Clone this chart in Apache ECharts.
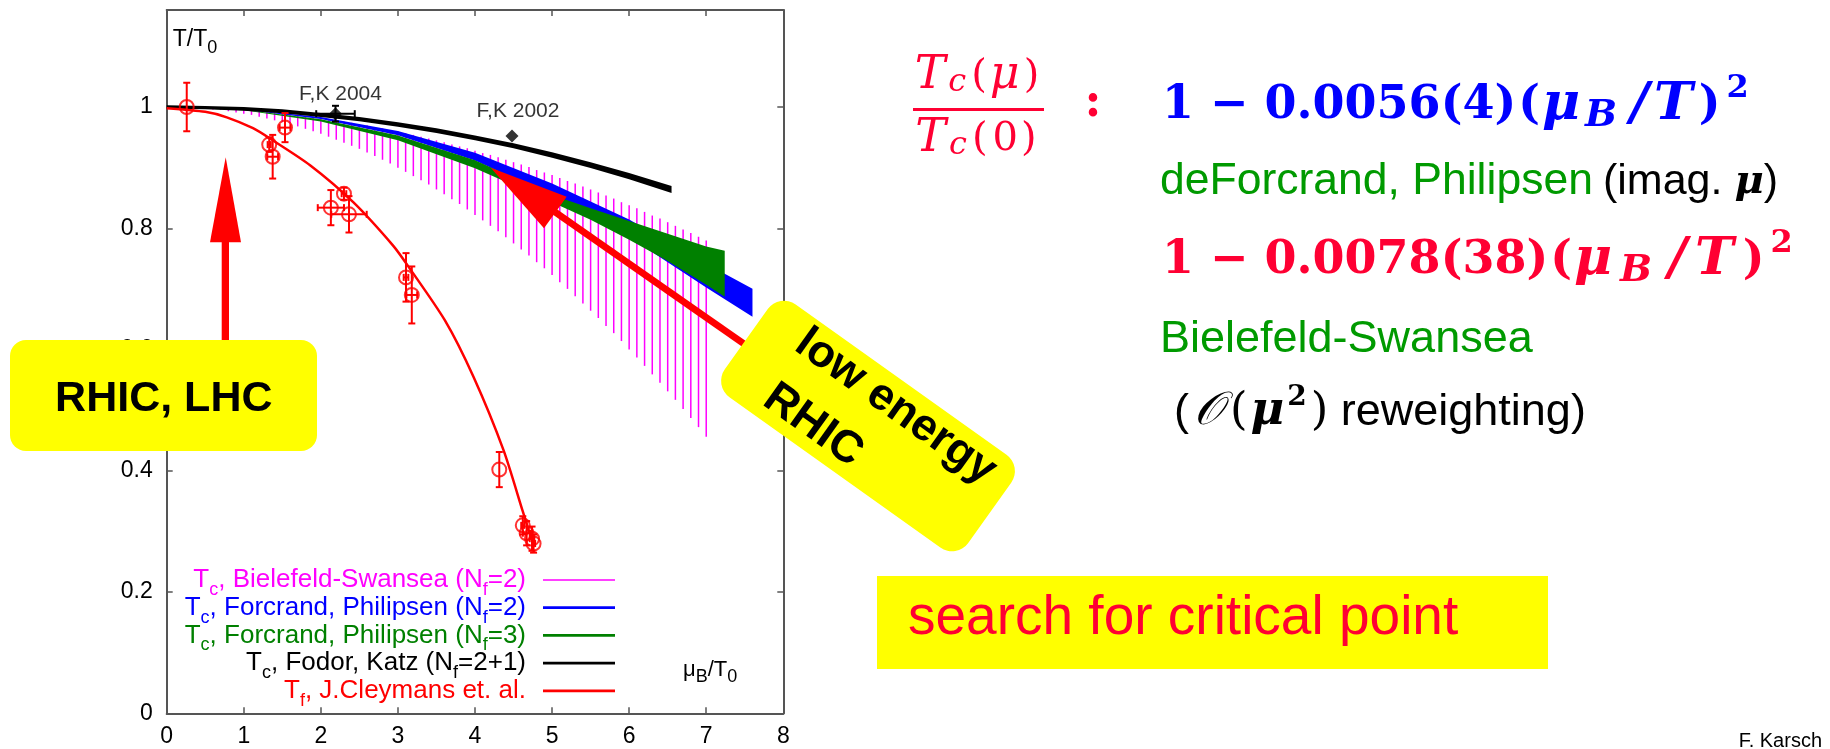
<!DOCTYPE html>
<html>
<head>
<meta charset="utf-8">
<script src="https://cdn.jsdelivr.net/npm/echarts@6/dist/echarts.min.js"></script>
<style>
  html, body { margin: 0; padding: 0; background: #fff; }
  #chart { width: 1830px; height: 749px; }
</style>
</head>
<body>
<div id="chart"></div>
<script>
// ---- Tc, Bielefeld-Swansea (Nf=2): hatch of vertical bars ----
const bsMu = [0.5,0.6,0.7,0.8,0.9,1.0,1.1,1.2,1.3,1.4,1.5,1.6,1.7,1.8,1.9,2.0,2.1,2.2,2.3,2.4,2.5,2.6,2.7,2.8,2.9,
  3.0,3.1,3.2,3.3,3.4,3.5,3.6,3.7,3.8,3.9,4.0,4.1,4.2,4.3,4.4,4.5,4.6,4.7,4.8,4.9,5.0,5.1,5.2,5.3,5.4,5.5,
  5.6,5.7,5.8,5.9,6.0,6.1,6.2,6.3,6.4,6.5,6.6,6.7,6.8,6.9,7.0];
const bsUpper = [0.999,0.998,0.998,0.997,0.996,0.996,0.995,0.994,0.992,0.991,0.990,0.988,0.987,0.985,0.984,0.982,
  0.980,0.978,0.976,0.974,0.972,0.970,0.967,0.965,0.962,0.960,0.957,0.954,0.951,0.948,0.945,0.942,0.938,0.935,
  0.932,0.928,0.924,0.921,0.917,0.913,0.909,0.905,0.901,0.896,0.892,0.888,0.883,0.878,0.874,0.869,0.864,0.859,
  0.854,0.849,0.843,0.838,0.833,0.827,0.821,0.816,0.810,0.804,0.798,0.792,0.786,0.780];
const bsLower = [0.997,0.996,0.995,0.993,0.991,0.989,0.987,0.984,0.981,0.978,0.975,0.972,0.968,0.964,0.960,0.956,
  0.951,0.946,0.941,0.936,0.931,0.925,0.919,0.913,0.907,0.900,0.893,0.886,0.879,0.872,0.864,0.856,0.848,0.840,
  0.831,0.822,0.813,0.804,0.795,0.785,0.775,0.765,0.755,0.744,0.734,0.723,0.711,0.700,0.688,0.676,0.664,0.652,
  0.639,0.627,0.614,0.600,0.587,0.573,0.559,0.545,0.531,0.517,0.502,0.487,0.472,0.456];

// ---- Tc, Forcrand-Philipsen (Nf=2) band ----
const fp2Mu = [0, 1, 2, 3, 4, 5, 6, 7, 7.6];
const fp2Upper = [1.000, 0.9964, 0.9836, 0.9606, 0.9244, 0.874, 0.8144, 0.7416, 0.7001];
const fp2Lower = [1.000, 0.9956, 0.9804, 0.9534, 0.9116, 0.854, 0.7856, 0.7024, 0.6539];

// ---- Tc, Forcrand-Philipsen (Nf=3) band ----
const fp3Mu = [0, 1, 2, 3, 4, 5, 5.5, 6, 6.5, 7, 7.24];
const fp3Upper = [1.000, 0.9955, 0.980, 0.953, 0.912, 0.855, 0.833, 0.812, 0.791, 0.770, 0.763];
const fp3Lower = [1.000, 0.9945, 0.976, 0.945, 0.899, 0.843, 0.814, 0.781, 0.746, 0.707, 0.687];

// ---- Tc, Fodor-Katz (Nf=2+1) band ----
const fkMu = [0, 0.5, 1, 1.5, 2, 2.5, 3, 3.5, 4, 4.5, 5, 5.5, 6, 6.55];
const fkUpper = [1.0027, 1.0018, 1.000, 0.9961, 0.9903, 0.9835, 0.9747, 0.9649, 0.953, 0.9402, 0.9255, 0.9088, 0.8912, 0.8698];
const fkLower = [0.9973, 0.9962, 0.994, 0.9899, 0.9837, 0.9765, 0.9673, 0.9571, 0.945, 0.9318, 0.9165, 0.8992, 0.8808, 0.8582];

// ---- Fodor-Katz points ----
const fkPtName = ['F,K 2004', 'F,K 2002'];
const fkPtMu = [2.19, 4.48];
const fkPtT = [0.989, 0.952];
const fkPtMuErr = [0.25, 0];
const fkPtTErr = [0.013, 0];

// ---- Tf, J.Cleymans et al.: freeze-out curve ----
const cleyMu = [0, 0.5, 0.78, 1.12, 1.34, 1.86, 2.42, 2.94, 3.13, 3.61, 3.98, 4.37, 4.62, 4.73];
const cleyT = [0.998, 0.992, 0.983, 0.965, 0.948, 0.904, 0.843, 0.771, 0.738, 0.648, 0.555, 0.434, 0.333, 0.288];

// ---- freeze-out data points ----
const frzMu = [0.26, 1.535, 1.33, 1.375, 2.30, 2.13, 2.365, 3.105, 3.18, 4.315, 4.62, 4.67, 4.74, 4.76];
const frzT = [1.000, 0.966, 0.938, 0.918, 0.857, 0.834, 0.823, 0.719, 0.690, 0.402, 0.310, 0.297, 0.288, 0.280];
const frzMuErr = [0, 0.07, 0.02, 0.07, 0.03, 0.17, 0.23, 0.03, 0.07, 0, 0.02, 0.05, 0.03, 0.02];
const frzTErr = [0.040, 0.024, 0.012, 0.036, 0.010, 0.029, 0.030, 0.040, 0.047, 0.029, 0.015, 0.020, 0.020, 0.015];

// ---- axes ----
const muTicks = { min: 0, max: 8, interval: 1 };
const tTicks = { min: 0, max: 1.16, interval: 0.2 };

// ---- legend entries ----
const seriesNames = [
  'Tc, Bielefeld-Swansea (Nf=2)',
  'Tc, Forcrand, Philipsen (Nf=2)',
  'Tc, Forcrand, Philipsen (Nf=3)',
  'Tc, Fodor, Katz (Nf=2+1)',
  'Tf, J.Cleymans et. al.'
];
const legendRich = [
  '{n|T}{s|c}{n|, Bielefeld-Swansea (N}{s|f}{n|=2)}',
  '{n|T}{s|c}{n|, Forcrand, Philipsen (N}{s|f}{n|=2)}',
  '{n|T}{s|c}{n|, Forcrand, Philipsen (N}{s|f}{n|=3)}',
  '{n|T}{s|c}{n|, Fodor, Katz (N}{s|f}{n|=2+1)}',
  '{n|T}{s|f}{n|, J.Cleymans et. al.}'
];

const MAGENTA = '#ff00ff', BLUE = '#0000ff', GREEN = '#008000', BLACK = '#000000', RED = '#ff0000';
const TXT_RED = '#ff0033', TXT_GREEN = '#009a00', TXT_BLUE = '#0000ff', YELLOW = '#ffff00';
const SANS = '"Liberation Sans", Arial, sans-serif';
const SERIF = '"DejaVu Serif", serif';

function bandSeries(name, xs, up, lo, color) {
  return {
    type: 'custom', name: name,
    data: xs.map((x, i) => [x, up[i], lo[i]]),
    encode: { x: 0, y: [1, 2] },
    itemStyle: { color: color },
    renderItem: (params, api) => {
      if (params.dataIndex !== 0) return null;
      const pts = [];
      for (let i = 0; i < xs.length; i++) pts.push(api.coord([xs[i], up[i]]));
      for (let i = xs.length - 1; i >= 0; i--) pts.push(api.coord([xs[i], lo[i]]));
      return { type: 'polygon', shape: { points: pts }, style: { fill: color } };
    }
  };
}

function errorBarSeries(xs, ys, dxs, dys, color) {
  return {
    type: 'custom',
    data: xs.map((x, i) => [x, ys[i], dxs[i], dys[i]]),
    encode: { x: 0, y: 1 },
    clip: false,
    renderItem: (params, api) => {
      const x = api.value(0), y = api.value(1), dx = api.value(2), dy = api.value(3);
      const st = { stroke: color, lineWidth: 2 };
      const cap = 3.5;
      const kids = [];
      if (dy > 0) {
        const t = api.coord([x, y + dy]), b = api.coord([x, y - dy]);
        kids.push({ type: 'line', shape: { x1: t[0], y1: t[1], x2: b[0], y2: b[1] }, style: st });
        kids.push({ type: 'line', shape: { x1: t[0] - cap, y1: t[1], x2: t[0] + cap, y2: t[1] }, style: st });
        kids.push({ type: 'line', shape: { x1: b[0] - cap, y1: b[1], x2: b[0] + cap, y2: b[1] }, style: st });
      }
      if (dx > 0) {
        const l = api.coord([x - dx, y]), r = api.coord([x + dx, y]);
        kids.push({ type: 'line', shape: { x1: l[0], y1: l[1], x2: r[0], y2: r[1] }, style: st });
        kids.push({ type: 'line', shape: { x1: l[0], y1: l[1] - cap, x2: l[0], y2: l[1] + cap }, style: st });
        kids.push({ type: 'line', shape: { x1: r[0], y1: r[1] - cap, x2: r[0], y2: r[1] + cap }, style: st });
      }
      return { type: 'group', children: kids };
    }
  };
}

// text placed by its baseline
function baseText(x, baseline, size, text, font, fill, rich, align) {
  return {
    type: 'text', z: 110,
    style: {
      x: x, y: baseline - 0.345 * size, text: text, font: font, fill: fill,
      align: align || 'left', verticalAlign: 'middle', rich: rich || undefined
    }
  };
}

const axisLineStyle = { color: '#555555', width: 2 };
const tickStyle = { inside: true, length: 6, lineStyle: { color: '#555555', width: 1.5 } };

const legendColors = [MAGENTA, BLUE, GREEN, BLACK, RED];
const legendIcons = [
  'path://M0,0M0,14M0,6.25H72V7.75H0Z',
  'path://M0,0M0,14M0,5.6H72V8.4H0Z',
  'path://M0,0M0,14M0,5.6H72V8.4H0Z',
  'path://M0,0M0,14M0,5.6H72V8.4H0Z',
  'path://M0,0M0,14M0,5.6H72V8.4H0Z'
];

// formula pieces (bold math in serif); "extra" widens the letter spacing
const fmlRich = (color, extra) => ({
  n: { font: 'bold 46px ' + SERIF, fill: color },
  p: { font: 'bold 46px ' + SERIF, fill: color, padding: [0, 2, 0, 2] },
  i: { font: 'bold italic 52px ' + SERIF, fill: color, padding: [0, 5 + extra, 0, 0] },
  sb: { font: 'bold italic 38px ' + SERIF, fill: color, padding: [20, 8 + extra, 0, 0] },
  sl: { font: 'bold italic 52px ' + SERIF, fill: color, padding: [0, 5 + extra, 0, 5] },
  t: { font: 'bold italic 52px ' + SERIF, fill: color, padding: [0, 6 + extra, 0, 0] },
  q: { font: 'bold 46px ' + SERIF, fill: color },
  sp: { font: 'bold 32px ' + SERIF, fill: color, padding: [0, 0, 35, 6] }
});
const fracRich = {
  i: { font: 'italic 46px ' + SERIF, padding: [0, 3, 0, 0] },
  m: { font: 'italic 46px ' + SERIF, padding: [0, 4, 0, 1] },
  r: { font: '40px ' + SERIF, padding: [0, 2, 0, 0] },
  z: { font: '40px ' + SERIF, padding: [0, 3, 0, 3] },
  c: { font: 'italic 32px ' + SERIF, padding: [12, 5, 0, 0] }
};

const option = {
  animation: false,
  backgroundColor: '#ffffff',
  grid: { left: 166.7, right: 1046.7, top: 10, bottom: 35.7, containLabel: false, outerBoundsMode: 'none' },
  xAxis: [{
    type: 'value', min: muTicks.min, max: muTicks.max, interval: muTicks.interval,
    axisLine: { show: true, onZero: false, lineStyle: axisLineStyle },
    axisTick: tickStyle, splitLine: { show: false },
    axisLabel: { fontFamily: SANS, fontSize: 23, color: '#000', margin: 12 }
  }, {
    type: 'value', position: 'top', min: muTicks.min, max: muTicks.max, interval: muTicks.interval,
    axisLine: { show: true, onZero: false, lineStyle: axisLineStyle },
    axisTick: tickStyle, splitLine: { show: false }, axisLabel: { show: false }
  }],
  yAxis: [{
    type: 'value', min: tTicks.min, max: tTicks.max, interval: tTicks.interval,
    name: '{a|T/T}{b|0}', nameLocation: 'end', nameGap: -16,
    nameTextStyle: {
      align: 'left', verticalAlign: 'top', padding: [0, 0, 0, 6], lineHeight: 28,
      rich: {
        a: { fontFamily: SANS, fontSize: 23, color: '#000', lineHeight: 28 },
        b: { fontFamily: SANS, fontSize: 18, color: '#000', lineHeight: 28, padding: [16, 0, 0, 0] }
      }
    },
    axisLine: { show: true, onZero: false, lineStyle: axisLineStyle },
    axisTick: tickStyle, splitLine: { show: false },
    axisLabel: { fontFamily: SANS, fontSize: 23, color: '#000', margin: 14, showMaxLabel: false }
  }, {
    type: 'value', position: 'right', min: tTicks.min, max: tTicks.max, interval: tTicks.interval,
    axisLine: { show: true, onZero: false, lineStyle: axisLineStyle },
    axisTick: tickStyle, splitLine: { show: false }, axisLabel: { show: false }
  }],
  legend: {
    orient: 'vertical', left: 161, top: 562, align: 'right',
    itemWidth: 72, itemHeight: 14, itemGap: -4.3, selectedMode: false,
    data: seriesNames.map((n, i) => ({
      name: n, icon: legendIcons[i],
      itemStyle: { color: legendColors[i] },
      textStyle: { color: legendColors[i] }
    })),
    formatter: (name) => legendRich[seriesNames.indexOf(name)],
    textStyle: {
      width: 360, align: 'right', padding: [0, 12, 0, 0], lineHeight: 24,
      fontFamily: SANS, fontSize: 26,
      rich: {
        n: { fontFamily: SANS, fontSize: 26, lineHeight: 24 },
        s: { fontFamily: SANS, fontSize: 18, lineHeight: 24, padding: [10, 0, -10, 0] }
      }
    }
  },
  series: [
    {
      type: 'custom', name: seriesNames[0],
      data: bsMu.map((m, i) => [m, bsUpper[i], bsLower[i]]),
      encode: { x: 0, y: [1, 2] },
      itemStyle: { color: MAGENTA },
      renderItem: (params, api) => {
        const a = api.coord([api.value(0), api.value(1)]);
        const b = api.coord([api.value(0), api.value(2)]);
        return { type: 'line', shape: { x1: a[0], y1: a[1], x2: b[0], y2: b[1] },
                 style: { stroke: MAGENTA, lineWidth: 1.5 } };
      }
    },
    bandSeries(seriesNames[1], fp2Mu, fp2Upper, fp2Lower, BLUE),
    bandSeries(seriesNames[2], fp3Mu, fp3Upper, fp3Lower, GREEN),
    bandSeries(seriesNames[3], fkMu, fkUpper, fkLower, BLACK),
    {
      type: 'line', name: seriesNames[4],
      data: cleyMu.map((m, i) => [m, cleyT[i]]),
      smooth: 0.25, symbol: 'none',
      lineStyle: { color: RED, width: 2.5 }, itemStyle: { color: RED }, z: 3
    },
    errorBarSeries(frzMu, frzT, frzMuErr, frzTErr, RED),
    {
      type: 'scatter',
      data: frzMu.map((m, i) => [m, frzT[i]]),
      symbol: 'circle', symbolSize: 14,
      itemStyle: { color: 'rgba(255,255,255,0)', borderColor: RED, borderWidth: 2 },
      z: 4
    },
    errorBarSeries(fkPtMu, fkPtT, fkPtMuErr, fkPtTErr, BLACK),
    {
      type: 'scatter',
      data: fkPtMu.map((m, i) => ({
        value: [m, fkPtT[i]], name: fkPtName[i],
        label: { offset: i === 0 ? [5, -19] : [6, -25] }
      })),
      symbol: 'diamond', symbolSize: 13,
      itemStyle: { color: BLACK },
      label: { show: true, position: 'inside', formatter: '{b}', fontFamily: SANS, fontSize: 21, color: '#000' },
      z: 5
    }
  ],
  graphic: [
    // horizontal axis title inside the frame
    baseText(683, 677.5, 22, '{a|μ}{b|B}{a|/T}{b|0}', '22px ' + SANS, '#000', {
      a: { font: '22px ' + SANS },
      b: { font: '18px ' + SANS, padding: [14, 0, 0, 0] }
    }),

    // arrow pointing up from the RHIC, LHC box
    { type: 'rect', z: 100, shape: { x: 221.7, y: 240, width: 7.3, height: 110 }, style: { fill: RED } },
    { type: 'polygon', z: 100, shape: { points: [[225.7, 157.3], [210, 242.3], [241, 242.3]] }, style: { fill: RED } },
    { type: 'rect', z: 101, shape: { x: 10, y: 340, width: 307, height: 111, r: 16 }, style: { fill: YELLOW } },
    baseText(163.8, 414, 43, 'RHIC, LHC', 'bold 43px ' + SANS, '#000', null, 'center'),

    // arrow from the low energy RHIC box
    { type: 'line', z: 100, shape: { x1: 555, y1: 212, x2: 770, y2: 362 }, style: { stroke: RED, lineWidth: 7 } },
    { type: 'polygon', z: 100, shape: { points: [[490.7, 167.7], [566.7, 196.7], [544, 228.3]] }, style: { fill: RED } },
    {
      type: 'group', z: 101, x: 868, y: 426, rotation: -35.5 * Math.PI / 180,
      children: [
        { type: 'rect', z: 101, shape: { x: -149.5, y: -57, width: 299, height: 114, r: 20 }, style: { fill: YELLOW } },
        { type: 'text', z: 102, style: { x: -106, y: -16 - 0.345 * 45, text: 'low energy', font: 'bold 45px ' + SANS, fill: '#000', align: 'left', verticalAlign: 'middle' } },
        { type: 'text', z: 102, style: { x: -100, y: 47 - 0.345 * 45, text: 'RHIC', font: 'bold 45px ' + SANS, fill: '#000', align: 'left', verticalAlign: 'middle' } }
      ]
    },

    // search for critical point
    { type: 'rect', z: 100, shape: { x: 877, y: 576, width: 671, height: 93 }, style: { fill: YELLOW } },
    baseText(908, 638.3, 55, 'search for critical point', '55px ' + SANS, TXT_RED),

    // ratio Tc(mu)/Tc(0)
    baseText(978, 90, 40, '{i|T}{c|c}{r|(}{m|μ}{r|)}', '40px ' + SERIF, TXT_RED, fracRich, 'center'),
    { type: 'rect', z: 110, shape: { x: 913, y: 108, width: 131, height: 3 }, style: { fill: TXT_RED } },
    baseText(977, 153, 40, '{i|T}{c|c}{r|(}{z|0}{r|)}', '40px ' + SERIF, TXT_RED, fracRich, 'center'),
    baseText(1093, 120, 46, ':', 'bold 46px ' + SERIF, TXT_RED, null, 'center'),

    baseText(1162, 121.7, 46, '{n|1 − 0.0056(4)}{p|(}{i|μ}{sb|B}{sl|/}{t|T}{q|)}{sp|2}', 'bold 46px ' + SERIF, TXT_BLUE, fmlRich(TXT_BLUE, 0)),
    baseText(1160, 197, 44.5, 'deForcrand, Philipsen', '44.5px ' + SANS, TXT_GREEN),
    baseText(1603, 197, 43, '{k|(imag. }{m|μ}{k|)}', '43px ' + SANS, '#000', {
      k: { font: '43px ' + SANS, fill: '#000' },
      m: { font: 'bold italic 40px ' + SERIF, fill: '#000' }
    }),
    baseText(1162, 276.7, 46, '{n|1 − 0.0078(38)}{p|(}{i|μ}{sb|B}{sl|/}{t|T}{q|)}{sp|2}', 'bold 46px ' + SERIF, TXT_RED, fmlRich(TXT_RED, 3)),
    baseText(1160, 355, 45, 'Bielefeld-Swansea', '45px ' + SANS, TXT_GREEN),
    baseText(1174, 428, 45, '{k|(}{o|𝒪}{r|(}{m|μ}{sp|2}{r|)}{k| reweighting)}', '45px ' + SANS, '#000', {
      k: { font: '45px ' + SANS },
      o: { font: 'italic 46px ' + SERIF, padding: [0, 7, 0, 5] },
      r: { font: '45px ' + SERIF },
      m: { font: 'bold italic 46px ' + SERIF, padding: [0, 3, 0, 3] },
      sp: { font: 'bold 28px ' + SERIF, padding: [0, 4, 30, 0] }
    }),

    baseText(1822, 748, 20, 'F. Karsch', '20px ' + SANS, '#000', null, 'right')
  ]
};

const chart = echarts.init(document.getElementById('chart'));
chart.setOption(option);
</script>
</body>
</html>
